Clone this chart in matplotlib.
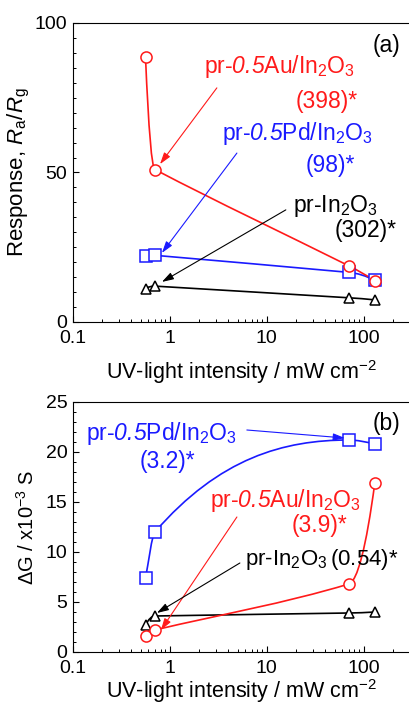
import numpy as np
import matplotlib.pyplot as plt
from matplotlib.path import Path
from matplotlib.patches import PathPatch
from matplotlib.ticker import MultipleLocator

plt.rcParams['font.family'] = ['Liberation Sans', 'DejaVu Sans']
plt.rcParams['mathtext.fontset'] = 'custom'
plt.rcParams['mathtext.rm'] = 'Liberation Sans'
plt.rcParams['mathtext.it'] = 'Liberation Sans:italic'
plt.rcParams['mathtext.sf'] = 'Liberation Sans:italic'  # used for italic digits

# UV-light intensity (mW cm-2)
intensity = [0.56, 0.70, 70, 130]

# (a) response Ra/Rg
resp_au = [88.5, 51.0, 18.8, 13.8]
resp_pd = [22.0, 22.3, 16.6, 13.9]
resp_in = [11.2, 12.0, 8.1, 7.4]

# (b) conductance change, x10^-3 S
dg_pd = [7.4, 12.0, 21.2, 20.8]
dg_au = [1.6, 2.2, 6.8, 16.9]
dg_in = [2.7, 3.6, 3.9, 4.0]

RED = '#ff1a1a'
BLUE = '#1a1aff'
BLACK = 'black'


def smooth_path(x, y, mode):
    # cubic Hermite curve through the points in log-x, drawn as Bezier segments
    u = np.log10(x)
    v = np.asarray(y, float)
    h = np.diff(u)
    d = np.diff(v) / h
    n = len(u)
    m = np.zeros(n)
    for k in range(1, n - 1):
        if mode == 'pchip':
            if d[k - 1] * d[k] > 0:
                w1 = 2 * h[k] + h[k - 1]
                w2 = h[k] + 2 * h[k - 1]
                m[k] = (w1 + w2) / (w1 / d[k - 1] + w2 / d[k])
        else:
            # tangent follows the longer neighbouring segment
            m[k] = (h[k - 1] ** 2 * d[k - 1] + h[k] ** 2 * d[k]) / (h[k - 1] ** 2 + h[k] ** 2)
    if mode == 'pchip':
        for k, (h0, h1, d0, d1) in [(0, (h[0], h[1], d[0], d[1])), (n - 1, (h[-1], h[-2], d[-1], d[-2]))]:
            e = ((2 * h0 + h1) * d0 - h0 * d1) / (h0 + h1)
            if np.sign(e) != np.sign(d0):
                e = 0
            elif np.sign(d0) != np.sign(d1) and abs(e) > 3 * abs(d0):
                e = 3 * d0
            m[k] = e
    else:
        m[0] = 2 * d[0] - m[1]
        m[-1] = 2 * d[-1] - m[-2]
    verts = [(u[0], v[0])]
    codes = [Path.MOVETO]
    for k in range(n - 1):
        verts += [(u[k] + h[k] / 3, v[k] + m[k] * h[k] / 3),
                  (u[k + 1] - h[k] / 3, v[k + 1] - m[k + 1] * h[k] / 3),
                  (u[k + 1], v[k + 1])]
        codes += [Path.CURVE4] * 3
    verts = np.array(verts)
    verts[:, 0] = 10 ** verts[:, 0]
    return Path(verts, codes)


def draw_series(ax, x, y, color, marker, ms, mode='chord'):
    ax.add_patch(PathPatch(smooth_path(x, y, mode), fc='none', ec=color, lw=1.2, zorder=2))
    ax.plot(x, y, ls='none', marker=marker, ms=ms, mfc='white', mec=color, mew=1.1, zorder=3)


def arrow(ax, head, tail, color):
    ax.annotate('', xy=head, xytext=tail,
                arrowprops=dict(arrowstyle='-|>,head_length=0.7,head_width=0.22',
                                color=color, lw=0.8, shrinkA=0, shrinkB=0))


def style_axes(ax, ymax, ymajor, yminor, lpad):
    ax.set_xscale('log')
    ax.set_xlim(0.1, 300)
    ax.set_ylim(0, ymax)
    ax.set_xticks([0.1, 1, 10, 100], labels=['0.1', '1', '10', '100'])
    ax.yaxis.set_major_locator(MultipleLocator(ymajor))
    ax.yaxis.set_minor_locator(MultipleLocator(yminor))
    ax.tick_params(which='both', direction='in', top=False, right=False, labelsize=14)
    ax.tick_params(axis='x', pad=6)
    ax.tick_params(axis='y', pad=4)
    ax.tick_params(which='major', length=4.5, width=0.8)
    ax.tick_params(which='minor', length=2.5, width=0.7)
    ax.spines['right'].set_visible(False)
    for s in ['left', 'bottom', 'top']:
        ax.spines[s].set_linewidth(0.8)
    ax.set_xlabel('UV-light intensity / mW cm$^{\\mathrm{-2}}$', fontsize=15.5, labelpad=lpad)


fig = plt.figure(figsize=(4.09, 7.07), dpi=100)
ax1 = fig.add_axes([73 / 409, 1 - 322 / 707, 337 / 409, 299 / 707])
ax2 = fig.add_axes([73 / 409, 1 - 652 / 707, 337 / 409, 250 / 707])

fs = 16.5

# ---- (a)
style_axes(ax1, 100, 50, 5, 8)
draw_series(ax1, intensity, resp_in, BLACK, '^', 7.5)
draw_series(ax1, intensity, resp_pd, BLUE, 's', 8)
draw_series(ax1, intensity, resp_au, RED, 'o', 8)
ax1.set_ylabel(r'Response, $\mathit{R}_\mathrm{a}/\mathit{R}_\mathrm{g}$', fontsize=16, labelpad=2)

ax1.text(2.24, 83.3, r'pr-$\mathsf{0.5}$Au/In$_2$O$_3$', color=RED, fontsize=fs, va='baseline')
ax1.text(86.7, 71.6, '(398)*', color=RED, fontsize=fs, va='baseline', ha='right')
arrow(ax1, (0.79, 52.8), (3.05, 78.3), RED)

ax1.text(3.44, 60.9, r'pr-$\mathsf{0.5}$Pd/In$_2$O$_3$', color=BLUE, fontsize=fs, va='baseline')
ax1.text(80.7, 50.2, '(98)*', color=BLUE, fontsize=fs, va='baseline', ha='right')
arrow(ax1, (0.827, 23.1), (4.91, 56.5), BLUE)

ax1.text(18.5, 36.8, r'pr-In$_2$O$_3$', color=BLACK, fontsize=fs, va='baseline')
ax1.text(219, 28.4, '(302)*', color=BLACK, fontsize=fs, va='baseline', ha='right')
arrow(ax1, (0.827, 13.4), (15.7, 37.5), BLACK)

ax1.text(124, 90.3, '(a)', fontsize=fs, va='baseline')

# ---- (b)
style_axes(ax2, 25, 5, 1, 0)
draw_series(ax2, intensity, dg_in, BLACK, '^', 7.5)
draw_series(ax2, intensity, dg_au, RED, 'o', 8)
draw_series(ax2, intensity, dg_pd, BLUE, 's', 8, mode='pchip')
ax2.set_ylabel('ΔG / x10$^{\\mathrm{-3}}$ S', fontsize=14.5, labelpad=6)

ax2.text(0.136, 21.2, r'pr-$\mathsf{0.5}$Pd/In$_2$O$_3$', color=BLUE, fontsize=fs, va='baseline')
ax2.text(0.491, 18.4, '(3.2)*', color=BLUE, fontsize=fs, va='baseline')
arrow(ax2, (63.7, 21.4), (6.22, 22.2), BLUE)

ax2.text(2.58, 14.5, r'pr-$\mathsf{0.5}$Au/In$_2$O$_3$', color=RED, fontsize=fs, va='baseline')
ax2.text(68.4, 12.0, '(3.9)*', color=RED, fontsize=fs, va='baseline', ha='right')
arrow(ax2, (0.808, 2.2), (4.91, 13.5), RED)

ax2.text(5.93, 8.7, r'pr-In$_2$O$_3$$\,$(0.54)*', color=BLACK, fontsize=16, va='baseline')
arrow(ax2, (0.734, 3.9), (5.27, 8.9), BLACK)

ax2.text(124, 22.2, '(b)', fontsize=fs, va='baseline')

fig.savefig('out.png', dpi=100)
